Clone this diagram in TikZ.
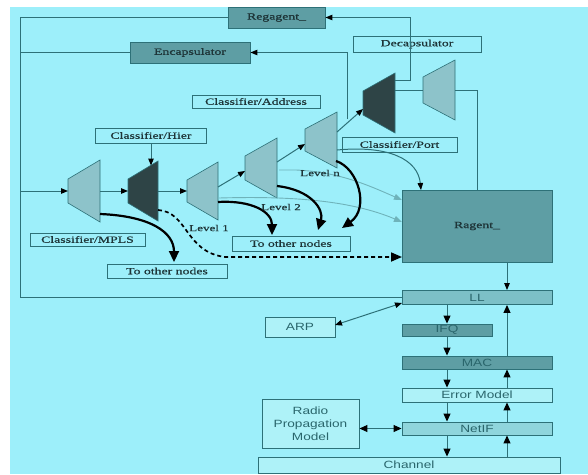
\documentclass[tikz,border=0pt]{standalone}
\usepackage{fontspec}
\setmainfont{Liberation Serif}
\setsansfont{Liberation Sans}
\newfontfamily\topf[FakeStretch=1.45,FakeBold=0.6]{Liberation Serif}
\newfontfamily\topb[FakeStretch=1.45,FakeBold=1.2]{Liberation Serif}
\newfontfamily\stackf[FakeStretch=1.3]{Liberation Sans}
\usetikzlibrary{arrows.meta,calc}
\definecolor{bg}{HTML}{9DEFFA}
\definecolor{edge}{HTML}{2D7178}
\definecolor{trapf}{HTML}{8DC3CA}
\definecolor{trapd}{HTML}{2E4446}
\definecolor{darkf}{HTML}{5E9EA4}
\definecolor{midf}{HTML}{7CC0C7}
\definecolor{netf}{HTML}{8FD5DC}
\definecolor{lightf}{HTML}{AEF2F8}
\definecolor{txt}{HTML}{1E3538}
\definecolor{stxt}{HTML}{2A666C}
\definecolor{greyl}{HTML}{6FB3BA}
\newcommand\mytrap[7]{%
  \filldraw[#7] (#2,#4-#5) -- (#3,#4-#6) -- (#3,#4+#6) -- (#2,#4+#5) -- cycle;
  \coordinate (#1w) at (#2,#4); \coordinate (#1e) at (#3,#4);}
\begin{document}
\begin{tikzpicture}[x=1pt,y=-1pt,
  box/.style={draw=edge,line width=0.9pt,inner sep=0pt,text=txt,font=\topf\fontsize{9.5}{10}\selectfont},
  bbox/.style={box,font=\topb\fontsize{9.5}{10}\selectfont},
  sbox/.style={box,text=stxt,font=\stackf\fontsize{10.5}{13}\selectfont},
  ln/.style={draw=edge,line width=1pt},
  tip/.style={-{Triangle[length=7pt,width=5.5pt,color=black]}},
  arr/.style={ln,tip},
  big/.style={draw=black,line width=2.2pt,-{Triangle[length=11pt,width=10pt]}},
  grarr/.style={draw=greyl,line width=0.9pt,-{Triangle[length=8pt,width=6pt]}},
  stk/.style={ln,-{Triangle[length=8pt,width=7pt,color=black]}},
  trapg/.style={fill=trapf,draw=edge,line width=0.6pt},
  trapk/.style={fill=trapd,draw=edge,line width=0.6pt},
  lvl/.style={text=txt,font=\topf\fontsize{9}{10}\selectfont,inner sep=0pt}]
\useasboundingbox (0,0) rectangle (588,474);
\fill[bg] (10,7) rectangle (588,474);

% boxes
\node[bbox,fill=darkf,minimum width=97pt,minimum height=21pt] (reg) at (276.5,17.5) {Regagent\_};
\node[bbox,fill=darkf,minimum width=120pt,minimum height=21pt] (enc) at (190,52.5) {Encapsulator};
\node[box,minimum width=128pt,minimum height=16pt] (dec) at (417,44) {Decapsulator};
\node[box,minimum width=128pt,minimum height=13pt] (cadd) at (256,101.5) {Classifier/Address};
\node[box,minimum width=111pt,minimum height=15pt] (chier) at (151,135.5) {Classifier/Hier};
\node[box,minimum width=115pt,minimum height=15pt] (cport) at (399.5,144.5) {Classifier/Port};
\node[box,minimum width=115pt,minimum height=13pt] (cmpls) at (87.5,239.5) {Classifier/MPLS};
\node[box,minimum width=120pt,minimum height=14pt] (to1) at (167,271) {To other nodes};
\node[box,minimum width=118pt,minimum height=15pt] (to2) at (291,243.5) {To other nodes};
\node[bbox,fill=darkf,minimum width=150pt,minimum height=72pt] (rag) at (477,226) {Ragent\_};

\node[sbox,fill=midf,minimum width=150pt,minimum height=14pt] (ll) at (477,297.5) {LL};
\node[sbox,fill=lightf,minimum width=70pt,minimum height=20pt] (arp) at (300,327) {ARP};
\node[sbox,fill=darkf,minimum width=90pt,minimum height=12pt] (ifq) at (447,330) {IFQ};
\node[sbox,fill=darkf,minimum width=150pt,minimum height=13pt] (mac) at (477,362.5) {MAC};
\node[sbox,fill=lightf,minimum width=150pt,minimum height=14pt] (err) at (477,395) {Error Model};
\node[sbox,fill=netf,minimum width=150pt,minimum height=13pt] (net) at (477,428.5) {NetIF};
\node[sbox,fill=lightf,minimum width=302pt,minimum height=16pt] (ch) at (409,465) {Channel};
\node[sbox,fill=lightf,minimum width=97pt,minimum height=49pt,align=center] (radio) at (310.5,423.5) {Radio\\Propagation\\Model};

% trapezoids
\mytrap{T1}{68}{100}{191}{12}{31}{trapg}
\mytrap{T2}{128}{158}{191}{12}{30}{trapk}
\mytrap{T3}{187}{218}{191}{11}{29}{trapg}
\mytrap{T4}{245}{277}{168}{12}{30}{trapg}
\mytrap{T5}{305}{337}{140}{11}{28}{trapg}
\mytrap{T6}{363}{395}{103}{12}{30}{trapk}
\mytrap{T7}{423}{455}{90}{13}{30}{trapg}

% coordinates
\coordinate (cBL) at (20,297.5);
\coordinate (T2top) at (151,165.5);
\coordinate (T3o) at (218,187);
\coordinate (T4i) at (245,171);
\coordinate (T4o) at (277,162);
\coordinate (T5i) at (305,144);
\coordinate (T5o) at (337,132);
\coordinate (T6i) at (363,109);
\coordinate (T6a) at (395,80);
\coordinate (T6b) at (395,90);
\coordinate (T7i) at (423,90);
\coordinate (encT) at (347,119);
\coordinate (T2d) at (158,210);
\coordinate (ragD) at (402,257);
\coordinate (T1b) at (100,214);
\coordinate (T3b) at (218,202);
\coordinate (T4b) at (277,186);
\coordinate (T5b) at (336,161);
\coordinate (T5c) at (337,150);
\coordinate (ragT) at (421,190);
\coordinate (T4g) at (279,170);
\coordinate (T3g) at (219,198);
\coordinate (ragG1) at (402,200);
\coordinate (ragG2) at (402,222);
\coordinate (dx) at (447,0);
\coordinate (ux) at (507,0);
\coordinate (llA) at (402,303);
\coordinate (arpA) at (335,325);

% loop lines
\draw[ln] (reg.west) -| (cBL) -- (ll.west);
\draw[ln] (enc.west) -- (enc.west -| cBL);
\draw[arr] (T1w -| cBL) -- (T1w);
\draw[arr] (T1e) -- (T2w);
\draw[arr] (T2e) -- (T3w);
\draw[arr] (chier.south) -- (T2top);
\draw[arr] (T3o) -- (T4i);
\draw[arr] (T4o) -- (T5i);
\draw[arr] (T5o) -- (T6i);
\draw[ln] (T6b) -- (T7i);
\draw[arr] (T6a) -- ++(15,0) |- (reg.east);
\draw[ln] (T7e) -| (rag.north);
\draw[arr] (encT) |- (enc.east);

% dashed
\draw[draw=black,line width=1.7pt,dash pattern=on 4pt off 3pt,-{Triangle[length=11pt,width=9pt]}]
  (T2d) .. controls (188,212) and (185,252) .. (225,257) -- (ragD);

% grey arrows
\draw[grarr] (T4g) -- (296,170) .. controls (340,172) and (370,186) .. (ragG1);
\draw[grarr] (T3g) .. controls (290,196) and (350,200) .. (ragG2);

% thin arc to Ragent
\draw[ln,tip] (T5c) .. controls (390,145) and (418,160) .. (ragT);

% thick arrows to other nodes
\draw[big] (T1b) .. controls (150,216) and (174,232) .. (174,262);
\draw[big] (T3b) .. controls (252,200) and (272,212) .. (272,235);
\draw[big] (T4b) .. controls (312,190) and (324,210) .. (318,230);
\draw[big] (T5b) .. controls (358,168) and (370,208) .. (342,228);

% level labels
\node[lvl] (l1) at (209,228) {Level 1};
\node[lvl] (l2) at (281,207) {Level 2};
\node[lvl] (ln) at (320,173) {Level n};

% lower stack
\draw[arr] (rag.south -| ux) -- (ll.north -| ux);
\draw[ln,{Triangle[length=7pt,width=5.5pt,color=black]}-{Triangle[length=7pt,width=5.5pt,color=black]}] (llA) -- (arpA);
\draw[stk] (ll.south -| dx) -- (ifq.north -| dx);
\draw[stk] (ifq.south -| dx) -- (mac.north -| dx);
\draw[stk] (mac.south -| dx) -- (err.north -| dx);
\draw[stk] (err.south -| dx) -- (net.north -| dx);
\draw[stk] (net.south -| dx) -- (ch.north -| dx);
\draw[stk] (ch.north -| ux) -- (net.south -| ux);
\draw[stk] (net.north -| ux) -- (err.south -| ux);
\draw[stk] (err.north -| ux) -- (mac.south -| ux);
\draw[stk] (mac.north -| ux) -- (ll.south -| ux);
\draw[ln,{Triangle[length=8pt,width=7pt,color=black]}-{Triangle[length=8pt,width=7pt,color=black]}] (radio.east |- net.west) -- (net.west);
\end{tikzpicture}
\end{document}
